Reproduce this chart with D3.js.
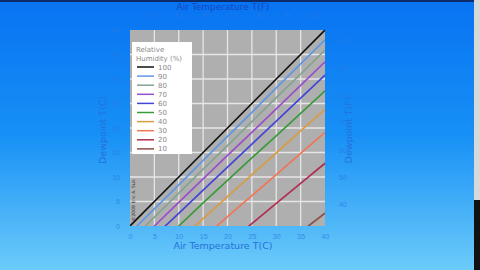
<!DOCTYPE html>
<html>
<head>
<meta charset="utf-8">
<script src="https://cdn.jsdelivr.net/npm/d3@7"></script>
<style>
  html, body { margin: 0; padding: 0; overflow: hidden; }
  svg { display: block; font-family: "DejaVu Sans", sans-serif; }
</style>
</head>
<body>
<script>
const WIDTH = 480;
const HEIGHT = 270;

// air temperature (C) sample points
const airTemps = [0, 5, 10, 15, 20, 25, 30, 35, 40];

// relative humidity levels (%), legend order
const humidities = [100, 90, 80, 70, 60, 50, 40, 30, 20, 10];
const lineColors = ["#111111", "#5f98e2", "#86a392", "#9a4ec8", "#4444d8",
                    "#3a9a3a", "#d69c48", "#f07656", "#b02e50", "#8a4e46"];

// dewpoint (C) at the air temperatures above (null = off chart)
const dew100 = [0, 5, 10, 15, 20, 25, 30, 35, 40];
const dew90 = [-1.4, 3.5, 8.4, 13.4, 18.3, 23.2, 28.2, 33.1, 38.0];
const dew80 = [-3.0, 1.8, 6.7, 11.6, 16.4, 21.3, 26.2, 31.0, 35.9];
const dew70 = [-4.8, 0.0, 4.8, 9.6, 14.4, 19.1, 23.9, 28.7, 33.5];
const dew60 = [null, -2.1, 2.6, 7.3, 12.0, 16.7, 21.4, 26.1, 30.8];
const dew50 = [null, -4.6, 0.0, 4.7, 9.3, 13.9, 18.4, 23.0, 27.6];
const dew40 = [null, null, -3.0, 1.5, 6.0, 10.5, 14.9, 19.4, 23.8];
const dew30 = [null, null, null, -2.5, 1.9, 6.2, 10.5, 14.8, 19.1];
const dew20 = [null, null, null, null, -3.7, 0.5, 4.6, 8.7, 12.8];
const dew10 = [null, null, null, null, null, null, -5.0, -1.2, 2.6];
const dewSeries = [dew100, dew90, dew80, dew70, dew60, dew50, dew40, dew30, dew20, dew10];

const celsiusTicks = [0, 5, 10, 15, 20, 25, 30, 35, 40];
const fahrenheitTicks = [40, 50, 60, 70, 80, 90, 100];

const plot = {left: 130, right: 325, top: 30, bottom: 226};

const svg = d3.select("body")
              .append("svg")
              .attr("width", WIDTH)
              .attr("height", HEIGHT);

const defs = svg.append("defs");
const grad = defs.append("linearGradient")
                 .attr("id", "bg")
                 .attr("x1", 0).attr("y1", 0)
                 .attr("x2", 0).attr("y2", 1);
grad.append("stop").attr("offset", "0%").attr("stop-color", "#0873f2");
grad.append("stop").attr("offset", "50%").attr("stop-color", "#1790f6");
grad.append("stop").attr("offset", "100%").attr("stop-color", "#6ccbf9");

defs.append("clipPath")
    .attr("id", "plotclip")
    .append("rect")
    .attr("x", plot.left)
    .attr("y", plot.top)
    .attr("width", plot.right - plot.left)
    .attr("height", plot.bottom - plot.top);

svg.append("rect")
   .attr("width", WIDTH)
   .attr("height", HEIGHT)
   .attr("fill", "url(#bg)");

// frame edges of the video capture
svg.append("rect").attr("width", WIDTH).attr("height", 2).attr("fill", "#0a2a6a");
svg.append("rect").attr("x", 474).attr("width", 6).attr("height", 200).attr("fill", "#d8d8d8");
svg.append("rect").attr("x", 474).attr("y", 200).attr("width", 6).attr("height", 70).attr("fill", "#111");

const x = d3.scaleLinear().domain([0, 40]).range([plot.left, plot.right]);
const y = d3.scaleLinear().domain([0, 40]).range([plot.bottom, plot.top]);
const toC = f => (f - 32) * 5 / 9;

svg.append("rect")
   .attr("x", plot.left)
   .attr("y", plot.top)
   .attr("width", plot.right - plot.left)
   .attr("height", plot.bottom - plot.top)
   .attr("fill", "#afafaf");

//grid
const grid = svg.append("g").attr("stroke", "#e6e6e6").attr("stroke-width", 1.3);
grid.selectAll(".vx")
    .data(celsiusTicks.slice(1, -1))
    .join("line")
    .attr("x1", d => x(d)).attr("x2", d => x(d))
    .attr("y1", plot.top).attr("y2", plot.bottom);
grid.selectAll(".hy")
    .data(celsiusTicks.slice(1, -1))
    .join("line")
    .attr("y1", d => y(d)).attr("y2", d => y(d))
    .attr("x1", plot.left).attr("x2", plot.right);

//curves
const line = d3.line()
               .defined(d => d[1] !== null)
               .x(d => x(d[0]))
               .y(d => y(d[1]));

svg.append("g")
   .attr("clip-path", "url(#plotclip)")
   .selectAll("path")
   .data(dewSeries)
   .join("path")
   .attr("d", s => line(s.map((v, i) => [airTemps[i], v])))
   .attr("fill", "none")
   .attr("stroke", (d, i) => lineColors[i])
   .attr("stroke-width", 1.7);

//axes (labels only, no domain lines)
const tickColor = "#2a7ae6";
const axisStyle = g => {
  g.select(".domain").remove();
  g.selectAll(".tick line").remove();
  g.selectAll("text").attr("fill", tickColor).attr("font-size", 7).attr("opacity", 0.75);
};

svg.append("g")
   .attr("transform", "translate(0," + plot.bottom + ")")
   .call(d3.axisBottom(x).tickValues(celsiusTicks).tickPadding(2))
   .call(axisStyle);

svg.append("g")
   .attr("transform", "translate(" + plot.left + ",0)")
   .call(d3.axisLeft(y).tickValues(celsiusTicks).tickPadding(4))
   .call(axisStyle);

svg.append("g")
   .attr("transform", "translate(0," + plot.top + ")")
   .call(d3.axisTop(x).tickValues(fahrenheitTicks.map(toC)).tickFormat((d, i) => fahrenheitTicks[i]).tickPadding(6))
   .call(axisStyle);

svg.append("g")
   .attr("transform", "translate(" + plot.right + ",0)")
   .call(d3.axisRight(y).tickValues(fahrenheitTicks.map(toC)).tickFormat((d, i) => fahrenheitTicks[i]).tickPadding(8))
   .call(axisStyle);

//axis titles
const titleColor = "#2470dc";
svg.append("text")
   .attr("x", 223).attr("y", 249)
   .attr("text-anchor", "middle")
   .attr("font-size", 9.5)
   .attr("fill", titleColor)
   .text("Air Temperature T(C)");

svg.append("text")
   .attr("x", 223).attr("y", 10)
   .attr("text-anchor", "middle")
   .attr("font-size", 9)
   .attr("fill", "#1448c0")
   .text("Air Temperature T(F)");

svg.append("text")
   .attr("transform", "translate(106,130) rotate(-90)")
   .attr("text-anchor", "middle")
   .attr("font-size", 9.5)
   .attr("fill", titleColor)
   .text("Dewpoint T(C)");

svg.append("text")
   .attr("transform", "translate(352,130) rotate(-90)")
   .attr("text-anchor", "middle")
   .attr("font-size", 9.5)
   .attr("fill", titleColor)
   .text("Dewpoint T(F)");

svg.append("text")
   .attr("transform", "translate(135,221) rotate(-90)")
   .attr("font-size", 4.5)
   .attr("fill", "#333")
   .text("©2009 Eric A. Suh");

//legend
const legend = svg.append("g").attr("transform", "translate(132,42)");
legend.append("rect")
      .attr("width", 60)
      .attr("height", 112)
      .attr("fill", "#ffffff");
legend.selectAll(".ttl")
      .data(["Relative", "Humidity (%)"])
      .join("text")
      .attr("x", 4)
      .attr("y", (d, i) => 10 + i * 8.5)
      .attr("font-size", 7)
      .attr("fill", "#8a8a8a")
      .text(d => d);

const items = legend.selectAll(".item")
                    .data(humidities)
                    .join("g")
                    .attr("transform", (d, i) => "translate(0," + (25 + i * 9.1) + ")");
items.append("line")
     .attr("x1", 5).attr("x2", 22)
     .attr("stroke", (d, i) => lineColors[i])
     .attr("stroke-width", 1.5);
items.append("text")
     .attr("x", 26)
     .attr("y", 2.5)
     .attr("font-size", 7)
     .attr("fill", "#8a8a8a")
     .text(d => d);
</script>
</body>
</html>
